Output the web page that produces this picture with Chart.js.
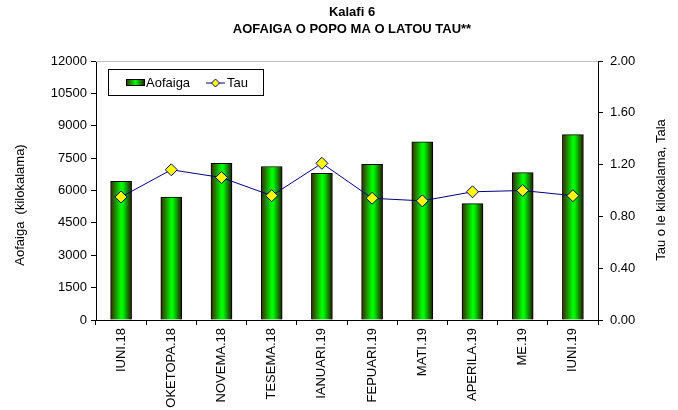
<!DOCTYPE html>
<html>
<head>
<meta charset="utf-8">
<script src="https://cdn.jsdelivr.net/npm/chart.js@4"></script>
<style>
  html, body { margin: 0; padding: 0; background: #fff; }
  #wrap { width: 678px; height: 410px; }
</style>
</head>
<body>
<div id="wrap"><canvas id="kalafi6"></canvas></div>
<script>
const masina = ['IUNI.18', 'OKETOPA.18', 'NOVEMA.18', 'TESEMA.18', 'IANUARI.19',
                'FEPUARI.19', 'MATI.19', 'APERILA.19', 'ME.19', 'IUNI.19'];
const aofaiga = [6420, 5700, 7260, 7110, 6800, 7210, 8250, 5390, 6830, 8590];
const tau = [0.95, 1.16, 1.10, 0.96, 1.21, 0.94, 0.92, 0.99, 1.00, 0.96];
const titleLines = ['Kalafi 6', 'AOFAIGA O POPO MA O LATOU TAU**'];
const leftTitle = 'Aofaiga  (kilokalama)';
const rightTitle = 'Tau o le kilokalama, Tala';

const FONT = 'Arial, "Liberation Sans", sans-serif';
Chart.defaults.font.family = FONT;
Chart.defaults.font.size = 13;
Chart.defaults.color = '#000';

// bar fill: dark brown at the edges, bright green in the middle
const barFill = (ctx) => {
    const chart = ctx.chart;
    if (!chart.chartArea || ctx.dataIndex === undefined) return '#00ff00';
    const cx = chart.scales.x.getPixelForValue(ctx.dataIndex);
    const g = chart.ctx.createLinearGradient(cx - 10.5, 0, cx + 10.5, 0);
    g.addColorStop(0, '#3a2600');
    g.addColorStop(0.5, '#00ff00');
    g.addColorStop(0.6, '#00f000');
    g.addColorStop(1, '#241400');
    return g;
};

const extras = {
    id: 'extras',
    afterDraw(chart) {
        const c = chart.ctx, a = chart.chartArea;
        c.save();
        // top border of plot
        c.strokeStyle = '#c0c0c0';
        c.lineWidth = 1;
        c.beginPath();
        c.moveTo(a.left, a.top + 0.5);
        c.lineTo(a.right, a.top + 0.5);
        c.stroke();

        // title
        c.fillStyle = '#000';
        c.font = 'bold 13px ' + FONT;
        c.textAlign = 'center';
        c.textBaseline = 'middle';
        c.fillText(titleLines[0], 352, 12);
        c.fillText(titleLines[1], 352, 29);

        // axis titles, both read bottom to top
        c.font = '13px ' + FONT;
        [[20, 205, leftTitle], [661, 190, rightTitle]].forEach(([x, y, t]) => {
            c.save();
            c.translate(x, y);
            c.rotate(-Math.PI / 2);
            c.fillText(t, 0, 0);
            c.restore();
        });

        // legend box
        c.strokeStyle = '#000';
        c.strokeRect(108.5, 69.5, 155, 26);
        const sg = c.createLinearGradient(126, 0, 145, 0);
        sg.addColorStop(0, '#3a2600');
        sg.addColorStop(0.5, '#00ff00');
        sg.addColorStop(1, '#241400');
        c.fillStyle = sg;
        c.fillRect(126, 79, 19, 7);
        c.strokeRect(126.5, 79.5, 18, 6);
        c.fillStyle = '#000';
        c.textAlign = 'left';
        c.fillText('Aofaiga', 146, 83);
        c.strokeStyle = '#000080';
        c.beginPath();
        c.moveTo(206, 83);
        c.lineTo(225, 83);
        c.stroke();
        c.fillStyle = '#ffff00';
        c.beginPath();
        c.moveTo(215.5, 79);
        c.lineTo(219.5, 83);
        c.lineTo(215.5, 87);
        c.lineTo(211.5, 83);
        c.closePath();
        c.fill();
        c.stroke();
        c.fillStyle = '#000';
        c.fillText('Tau', 227, 83);
        c.restore();
    }
};

new Chart(document.getElementById('kalafi6'), {
    data: {
        labels: masina,
        datasets: [{
            type: 'line',
            label: 'Tau',
            data: tau,
            yAxisID: 'y2',
            borderColor: '#000080',
            borderWidth: 1,
            pointStyle: 'rectRot',
            pointRadius: 6,
            pointHoverRadius: 6,
            pointBackgroundColor: '#ffff00',
            pointBorderColor: '#000080',
            pointBorderWidth: 1,
            tension: 0,
            order: 0
        }, {
            type: 'bar',
            label: 'Aofaiga',
            data: aofaiga,
            yAxisID: 'y',
            backgroundColor: barFill,
            borderColor: '#000',
            borderWidth: 1,
            barThickness: 21,
            order: 1
        }]
    },
    options: {
        responsive: true,
        maintainAspectRatio: false,
        animation: false,
        layout: { padding: { top: 61, left: 0, right: 0, bottom: 0 } },
        plugins: {
            legend: { display: false },
            title: { display: false },
            tooltip: { enabled: false }
        },
        scales: {
            x: {
                offset: true,
                grid: { offset: true, drawOnChartArea: false, color: '#000', tickLength: 5 },
                border: { color: '#000' },
                ticks: { minRotation: 90, maxRotation: 90, padding: 3, autoSkip: false },
                afterFit(s) { s.height = 90; }
            },
            y: {
                position: 'left',
                min: 0,
                max: 12000,
                ticks: { stepSize: 1500, padding: 4, callback: (v) => String(v) },
                grid: { drawOnChartArea: false, color: '#000', tickLength: 5 },
                border: { color: '#000' },
                afterFit(s) { s.width = 96; }
            },
            y2: {
                position: 'right',
                min: 0,
                max: 2,
                ticks: { stepSize: 0.4, padding: 7, callback: (v) => v.toFixed(2) },
                grid: { drawOnChartArea: false, color: '#000', tickLength: 5 },
                border: { color: '#000' },
                afterFit(s) { s.width = 80; }
            }
        }
    },
    plugins: [extras]
});
</script>
</body>
</html>
